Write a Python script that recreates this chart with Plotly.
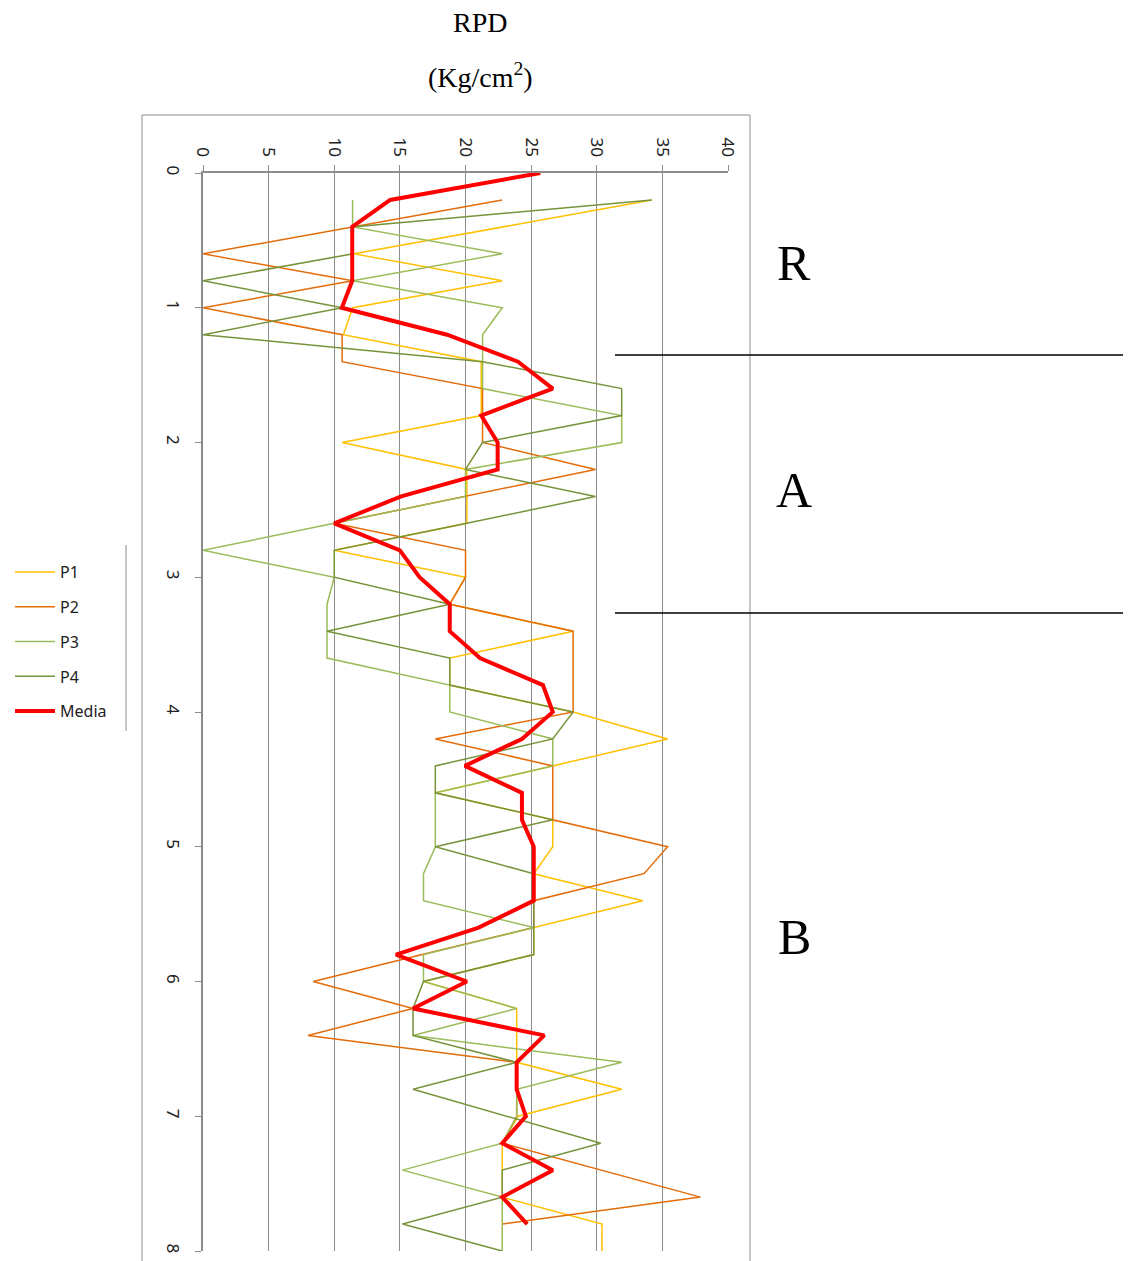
import plotly.graph_objects as go

# Depths (m) for the four profiles and the mean profile
depth_p = [round(0.2 * i, 1) for i in range(1, 41)]   # 0.2 .. 8.0
depth_media = [round(0.2 * i, 1) for i in range(0, 40)]  # 0.0 .. 7.8

p1 = [34.2, 22.8, 11.5, 22.8, 11.4, 10.7, 21.2, 21.2, 21.2, 10.6,
      20.1, 20.1, 20.1, 10.0, 20.0, 18.8, 28.2, 18.8, 18.8, 28.2,
      35.4, 26.65, 17.7, 26.65, 26.65, 25.2, 33.5, 25.2, 25.2, 16.8,
      23.9, 23.9, 23.9, 31.9, 24.0, 22.8, 22.8, 22.8, 30.4, 30.4]
p2 = [22.8, 11.4, 0.0, 11.4, 0.0, 10.6, 10.6, 21.3, 21.3, 21.3,
      29.9, 20.0, 10.0, 20.0, 20.0, 18.8, 28.2, 28.2, 28.2, 28.2,
      17.7, 26.65, 26.65, 26.65, 35.4, 33.6, 25.2, 25.2, 16.7, 8.4,
      16.0, 8.0, 23.9, 23.9, 23.9, 22.8, 30.3, 37.9, 22.8, None]
p3 = [11.4, 11.4, 22.8, 11.4, 22.8, 21.3, 21.3, 21.3, 31.9, 31.9,
      20.0, 20.0, 10.0, 0.0, 10.0, 9.45, 9.45, 9.45, 18.8, 18.8,
      26.65, 26.65, 17.7, 17.7, 17.7, 16.8, 16.8, 25.2, 16.8, 16.8,
      23.9, 16.0, 31.9, 23.9, 23.9, 22.8, 15.2, 22.8, 22.8, 22.8]
p4 = [34.2, 11.4, 11.4, 0.0, 10.6, 0.0, 21.3, 31.9, 31.9, 21.3,
      20.0, 29.9, 20.1, 10.0, 10.0, 18.8, 9.45, 18.8, 18.8, 28.2,
      26.65, 17.7, 17.7, 26.65, 17.7, 25.2, 25.2, 25.2, 25.2, 16.8,
      16.0, 16.0, 23.9, 16.0, 23.2, 30.3, 22.8, 22.8, 15.2, 22.8]
media = [25.7, 14.26, 11.37, 11.37, 11.37, 10.58, 18.6, 24.0, 26.65, 21.2,
         22.45, 22.45, 15.1, 10.0, 15.0, 16.5, 18.8, 18.8, 21.1, 25.9,
         26.65, 24.3, 19.95, 24.3, 24.3, 25.2, 25.2, 25.2, 21.0, 14.7,
         20.1, 16.0, 26.0, 23.9, 23.9, 24.6, 22.8, 26.65, 22.8, 24.7]

series_names = ["P1", "P2", "P3", "P4", "Media"]
series_colors = ["#FFC000", "#E46C0A", "#9BBB59", "#77933C", "#FF0000"]

x_ticks = [0, 5, 10, 15, 20, 25, 30, 35, 40]
y_ticks = [0, 1, 2, 3, 4, 5, 6, 7, 8]

zone_labels = ["R", "A", "B"]
zone_label_depths = [0.67, 2.35, 5.67]
zone_limits = [1.35, 3.265]

fig = go.Figure()
data_sets = [(p1, depth_p), (p2, depth_p), (p3, depth_p), (p4, depth_p), (media, depth_media)]
for i, (vals, dep) in enumerate(data_sets):
    fig.add_trace(go.Scatter(
        x=vals, y=dep, mode="lines", name=series_names[i],
        legendgroup=series_names[i],
        line=dict(color=series_colors[i], width=4 if series_names[i] == "Media" else 1.5),
        connectgaps=False,
    ))

# page offset (default body margin)
OX, OY = 8, 8
W, H = 1135 - OX, 1261 - OY
L = 203 - OX
T = 173 - OY
R = W - (728 - OX)
B = H - (1251 - OY)
pw, ph = W - L - R, H - T - B

def px_x(px):
    return (px - OX - L) / pw

def px_y(py):
    return (H - B - (py - OY)) / ph

fig.update_layout(
    width=W, height=H,
    margin=dict(l=L, r=R, t=T, b=B, autoexpand=False),
    paper_bgcolor="white", plot_bgcolor="white",
    font=dict(family="Noto Sans, Liberation Sans, sans-serif", size=15, color="#222222"),
    showlegend=True,
    legend=dict(
        x=px_x(10), y=px_y(555), xanchor="left", yanchor="top",
        traceorder="grouped", tracegroupgap=11, itemwidth=40,
        font=dict(size=16, color="#222222"),
        bgcolor="rgba(0,0,0,0)",
    ),
)

fig.update_xaxes(
    side="top", range=[0, 40], tickvals=x_ticks, ticktext=[str(v) for v in x_ticks],
    tickangle=90, showgrid=True, gridcolor="#8C8C8C", gridwidth=1,
    ticks="outside", ticklen=6, tickcolor="#8C8C8C",
    showline=True, linecolor="#8C8C8C", linewidth=2, zeroline=False,
    tickfont=dict(size=17, color="#222222"), ticklabelstandoff=2,
)
fig.update_yaxes(
    range=[8, 0], tickvals=y_ticks, ticktext=[str(v) for v in y_ticks],
    tickangle=90, showgrid=False,
    ticks="outside", ticklen=6, tickcolor="#8C8C8C",
    showline=True, linecolor="#8C8C8C", linewidth=2, zeroline=False,
    tickfont=dict(size=17, color="#222222"), ticklabelstandoff=8,
)

# Outer chart frame
fig.add_shape(type="rect", xref="paper", yref="paper",
              x0=px_x(142), x1=px_x(750), y0=px_y(1275), y1=px_y(115),
              line=dict(color="#8C8C8C", width=1), layer="below")
# Legend separator line
fig.add_shape(type="line", xref="paper", yref="paper",
              x0=px_x(126), x1=px_x(126), y0=px_y(545), y1=px_y(731),
              line=dict(color="#8C8C8C", width=1))

# Zone limits
for d in zone_limits:
    fig.add_shape(type="line", xref="paper", yref="y",
                  x0=px_x(615), x1=px_x(1123), y0=d, y1=d,
                  line=dict(color="black", width=1.5))

for lab, d in zip(zone_labels, zone_label_depths):
    fig.add_annotation(text=lab, xref="paper", yref="y", x=px_x(794), y=d,
                       showarrow=False, xanchor="center", yanchor="middle",
                       font=dict(family="Liberation Serif, Times New Roman, serif", size=50, color="black"))

# Axis title
fig.add_annotation(text="RPD", xref="paper", yref="paper", x=px_x(480), y=px_y(22),
                   showarrow=False, xanchor="center", yanchor="middle",
                   font=dict(family="Liberation Serif, Times New Roman, serif", size=28, color="black"))
fig.add_annotation(text="(Kg/cm<sup>2</sup>)", xref="paper", yref="paper", x=px_x(480), y=px_y(76),
                   showarrow=False, xanchor="center", yanchor="middle",
                   font=dict(family="Liberation Serif, Times New Roman, serif", size=28, color="black"))

fig.write_html("out.html")
